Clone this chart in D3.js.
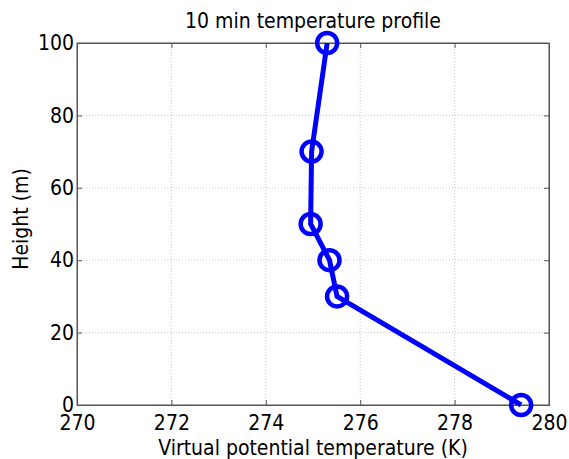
<!DOCTYPE html>
<html>
<head>
<meta charset="utf-8">
<script src="https://cdn.jsdelivr.net/npm/d3@7"></script>
<style>
  body { margin: 0; background: #fff; }
  text { font-family: "DejaVu Sans", sans-serif; font-stretch: condensed; fill: #000; }
</style>
</head>
<body>
<div id="chart"></div>
<script>
// data
let heights = [0, 30, 40, 50, 70, 100];
let temps = [279.41, 275.51, 275.35, 274.95, 274.97, 275.3];
let xTicks = [270, 272, 274, 276, 278, 280];
let yTicks = [0, 20, 40, 60, 80, 100];

let width = 569;
let height = 459;
let margin = { top: 43, right: 20, bottom: 54, left: 77 };
let w = width - margin.left - margin.right;
let h = height - margin.top - margin.bottom;

let svg = d3.select('#chart')
  .append('svg')
  .attr('width', width)
  .attr('height', height);

let g = svg.append('g')
  .attr('transform', 'translate(' + margin.left + ',' + margin.top + ')');

let x = d3.scaleLinear().domain([270, 280]).range([0, w]);
let y = d3.scaleLinear().domain([0, 100]).range([h, 0]);

// grid lines
g.selectAll('.gx')
  .data(xTicks.slice(1, -1))
  .enter()
  .append('line')
  .attr('x1', d => x(d)).attr('x2', d => x(d))
  .attr('y1', 0).attr('y2', h)
  .attr('stroke', '#c8c8c8')
  .attr('stroke-width', 1)
  .attr('stroke-dasharray', '1,2');

g.selectAll('.gy')
  .data(yTicks.slice(1, -1))
  .enter()
  .append('line')
  .attr('y1', d => y(d)).attr('y2', d => y(d))
  .attr('x1', 0).attr('x2', w)
  .attr('stroke', '#c8c8c8')
  .attr('stroke-width', 1)
  .attr('stroke-dasharray', '1,2');

// axes, ticks pointing in like matlab
let xAxis = g.append('g')
  .attr('transform', 'translate(0,' + h + ')')
  .call(d3.axisBottom(x).tickValues(xTicks).tickSize(-5).tickPadding(10));
let yAxis = g.append('g')
  .call(d3.axisLeft(y).tickValues(yTicks).tickSize(-5).tickPadding(3));
g.append('g')
  .call(d3.axisTop(x).tickValues(xTicks).tickSize(-5).tickFormat(''));
g.append('g')
  .attr('transform', 'translate(' + w + ',0)')
  .call(d3.axisRight(y).tickValues(yTicks).tickSize(-5).tickFormat(''));

svg.selectAll('.domain, .tick line').attr('stroke', '#555');
svg.selectAll('.tick text').style('font-size', '21px').attr('fill', '#000');
xAxis.selectAll('.tick text').attr('dy', '0.72em');

// box
g.append('rect')
  .attr('width', w).attr('height', h)
  .attr('fill', 'none')
  .attr('stroke', '#555');

// profile line
let points = heights.map((d, i) => ({ h: d, t: temps[i] }));
let line = d3.line()
  .x(d => x(d.t))
  .y(d => y(d.h));

g.append('path')
  .datum(points)
  .attr('d', line)
  .attr('fill', 'none')
  .attr('stroke', '#0000ff')
  .attr('stroke-width', 5);

g.selectAll('.marker')
  .data(points)
  .enter()
  .append('circle')
  .attr('cx', d => x(d.t))
  .attr('cy', d => y(d.h))
  .attr('r', 10)
  .attr('fill', 'none')
  .attr('stroke', '#0000ff')
  .attr('stroke-width', 4.5);

// titles
svg.append('text')
  .attr('x', margin.left + w / 2)
  .attr('y', 28)
  .attr('text-anchor', 'middle')
  .style('font-size', '21px')
  .text('10 min temperature profile');

svg.append('text')
  .attr('x', margin.left + w / 2)
  .attr('y', 455)
  .attr('text-anchor', 'middle')
  .style('font-size', '21px')
  .text('Virtual potential temperature (K)');

svg.append('text')
  .attr('transform', 'translate(28,' + (margin.top + h / 2 - 5) + ') rotate(-90)')
  .attr('text-anchor', 'middle')
  .style('font-size', '21px')
  .text('Height (m)');
</script>
</body>
</html>
